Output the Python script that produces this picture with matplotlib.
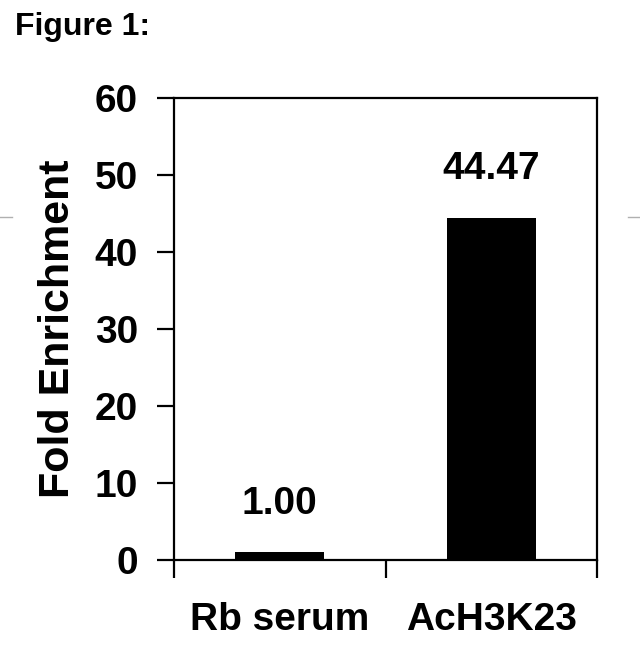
import matplotlib
matplotlib.use('Agg')
import matplotlib.pyplot as plt
from matplotlib.lines import Line2D

# data
categories = ['Rb serum', 'AcH3K23']
values = [1.00, 44.47]
value_labels = ['1.00', '44.47']
y_ticks = [0, 10, 20, 30, 40, 50, 60]

plt.rcParams['font.family'] = ['Liberation Sans', 'DejaVu Sans']
plt.rcParams['font.weight'] = 'bold'

W, H = 640, 652
fig = plt.figure(figsize=(W / 100, H / 100), dpi=100)
ax = fig.add_axes([174 / W, 1 - 560 / H, (597 - 174) / W, (560 - 98) / H])

x = range(len(categories))
ax.bar(x, values, width=0.42, color='black')

for xi, v, lab in zip(x, values, value_labels):
    ax.annotate(lab, (xi, v), xytext=(0, 22), textcoords='offset points',
                ha='center', va='bottom', fontsize=28, fontweight='bold')

ax.set_xlim(-0.5, 1.5)
ax.set_ylim(0, 60)
ax.set_yticks(y_ticks)
ax.set_yticklabels([str(t) for t in y_ticks], fontsize=28, fontweight='bold')

# category boundaries get the ticks, names sit in the middle
ax.set_xticks([-0.5, 0.5, 1.5])
ax.set_xticklabels([])
ax.set_xticks(list(x), minor=True)
ax.set_xticklabels(categories, minor=True, fontsize=28, fontweight='bold')
ax.tick_params(axis='x', which='minor', length=0, pad=30)
ax.tick_params(axis='x', which='major', length=13, width=1.6, direction='out')
ax.tick_params(axis='y', length=12, width=1.6, direction='out', pad=14)

for s in ax.spines.values():
    s.set_linewidth(1.6)

ax.set_ylabel('Fold Enrichment', fontsize=31, fontweight='bold', labelpad=12)

fig.text(15 / W, 1 - 27 / H, 'Figure 1:', fontsize=23, fontweight='bold',
         ha='left', va='center')

# faint gray marks at the page edges
fig.add_artist(Line2D([0, 12 / W], [1 - 217 / H] * 2, color='#b0b0b0', lw=1))
fig.add_artist(Line2D([628 / W, 1], [1 - 217 / H] * 2, color='#b0b0b0', lw=1))

fig.savefig('out.png', dpi=100)
